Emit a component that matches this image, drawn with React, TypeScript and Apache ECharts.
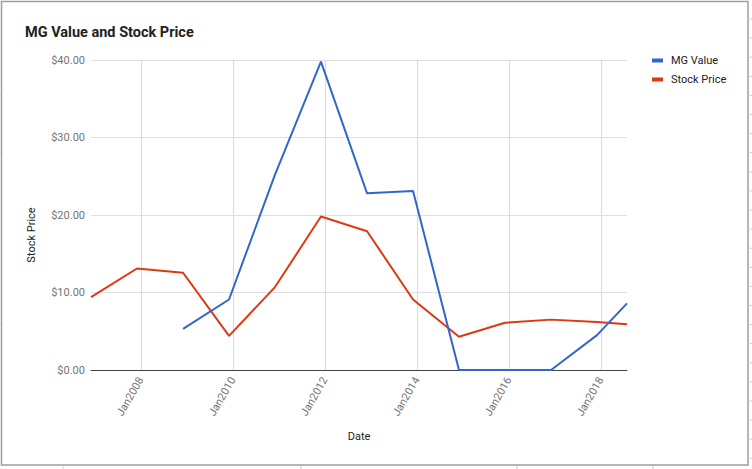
import React, { useEffect, useRef } from "react";
import * as echarts from "echarts";

const dates = [
  "2006-12-01", "2007-12-01", "2008-12-01", "2009-12-01", "2010-12-01",
  "2011-12-01", "2012-12-01", "2013-12-01", "2014-12-01", "2015-12-01",
  "2016-12-01", "2017-12-01", "2018-07-27",
];
const mgValue: (number | null)[] = [null, null, 5.3, 9.1, 25.2, 39.8, 22.8, 23.1, 0, 0, 0, 4.5, 8.6];
const stockPrice: number[] = [9.4, 13.1, 12.55, 4.4, 10.7, 19.8, 17.9, 9.1, 4.3, 6.1, 6.5, 6.2, 5.9];
const tickYears = [2008, 2010, 2012, 2014, 2016, 2018];
const yTicks = { min: 0, max: 40, interval: 10 };

const FONT = "Roboto, 'Noto Sans', sans-serif";

function toTs(d: string): number {
  const [y, m, day] = d.split("-").map(Number);
  return new Date(y, m - 1, day).getTime();
}

export default function App() {
  const ref = useRef<HTMLDivElement>(null);
  useEffect(() => {
    if (!ref.current) return;
    const chart = echarts.init(ref.current, undefined, { renderer: "svg" });
    const tickTs = tickYears.map((y) => new Date(y, 0, 1).getTime());
    const mgData = dates
      .map((d, i) => [toTs(d), mgValue[i]])
      .filter((p) => p[1] !== null);
    const spData = dates.map((d, i) => [toTs(d), stockPrice[i]]);

    const frameColor = "#9e9e9e";
    const sideTicks: any[] = [];
    for (let y = 19; y < 465; y += 19.1) {
      sideTicks.push({ type: "line", shape: { x1: 748, y1: y, x2: 752, y2: y }, style: { stroke: "#cfcfcf", lineWidth: 1 } });
      sideTicks.push({ type: "line", shape: { x1: 0, y1: y, x2: 1, y2: y }, style: { stroke: "#cfcfcf", lineWidth: 1 } });
    }
    [63, 301, 517, 653].forEach((x) => {
      sideTicks.push({ type: "line", shape: { x1: x, y1: 466, x2: x, y2: 469 }, style: { stroke: "#cfcfcf", lineWidth: 1 } });
    });

    chart.setOption({
      animation: false,
      backgroundColor: "#ffffff",
      textStyle: { fontFamily: FONT },
      title: {
        text: "MG Value and Stock Price",
        left: 20,
        top: 20,
        textStyle: { fontFamily: FONT, fontSize: 14.5, fontWeight: "bold", color: "#212121" },
      },
      legend: {
        orient: "vertical",
        left: 647,
        top: 50,
        itemWidth: 11,
        itemHeight: 4,
        itemGap: 8,
        icon: "rect",
        textStyle: { fontFamily: FONT, fontSize: 11, color: "#222222", padding: [0, 0, 0, 3] },
        data: ["MG Value", "Stock Price"],
      },
      grid: { left: 91, right: 125, top: 60, bottom: 99, containLabel: false },
      xAxis: {
        type: "value",
        min: toTs(dates[0]),
        max: toTs(dates[dates.length - 1]),
        axisLine: { show: true, onZero: false, lineStyle: { color: "#444444", width: 1 } },
        axisTick: { show: false, customValues: tickTs },
        splitLine: { show: true, lineStyle: { color: "#dadada", width: 1 } },
        axisLabel: {
          customValues: tickTs,
          rotate: 60,
          margin: 8,
          fontFamily: FONT,
          fontSize: 11,
          color: "#757575",
          formatter: (v: number) => "Jan" + new Date(v).getFullYear(),
        },
      },
      yAxis: {
        type: "value",
        min: yTicks.min,
        max: yTicks.max,
        interval: yTicks.interval,
        axisLine: { show: false },
        axisTick: { show: false },
        splitLine: { show: true, lineStyle: { color: "#e0e0e0", width: 1 } },
        axisLabel: {
          margin: 6,
          fontFamily: FONT,
          fontSize: 11,
          color: "#757575",
          formatter: (v: number) => "$" + v.toFixed(2),
        },
      },
      series: [
        {
          name: "MG Value",
          type: "line",
          data: mgData,
          showSymbol: false,
          symbol: "none",
          lineStyle: { color: "#3366cc", width: 2 },
          itemStyle: { color: "#3366cc" },
          z: 3,
        },
        {
          name: "Stock Price",
          type: "line",
          data: spData,
          showSymbol: false,
          symbol: "none",
          lineStyle: { color: "#dc3912", width: 2 },
          itemStyle: { color: "#dc3912" },
          z: 2,
        },
      ],
      graphic: [
        {
          type: "rect",
          shape: { x: 1.5, y: 1.5, width: 746.5, height: 463.5 },
          style: { fill: "none", stroke: frameColor, lineWidth: 1.5 },
          silent: true,
        },
        ...sideTicks,
        {
          type: "text",
          x: 359,
          y: 436,
          style: { text: "Date", align: "center", verticalAlign: "middle", fontFamily: FONT, fontSize: 11, fill: "#222222" },
        },
        {
          type: "text",
          x: 31,
          y: 235,
          rotation: Math.PI / 2,
          style: { text: "Stock Price", align: "center", verticalAlign: "middle", fontFamily: FONT, fontSize: 11, fill: "#222222" },
        },
      ],
    });
    return () => chart.dispose();
  }, []);
  return (
    <div
      ref={ref}
      style={{ position: "fixed", left: 0, top: 0, width: 752, height: 469 }}
    />
  );
}
